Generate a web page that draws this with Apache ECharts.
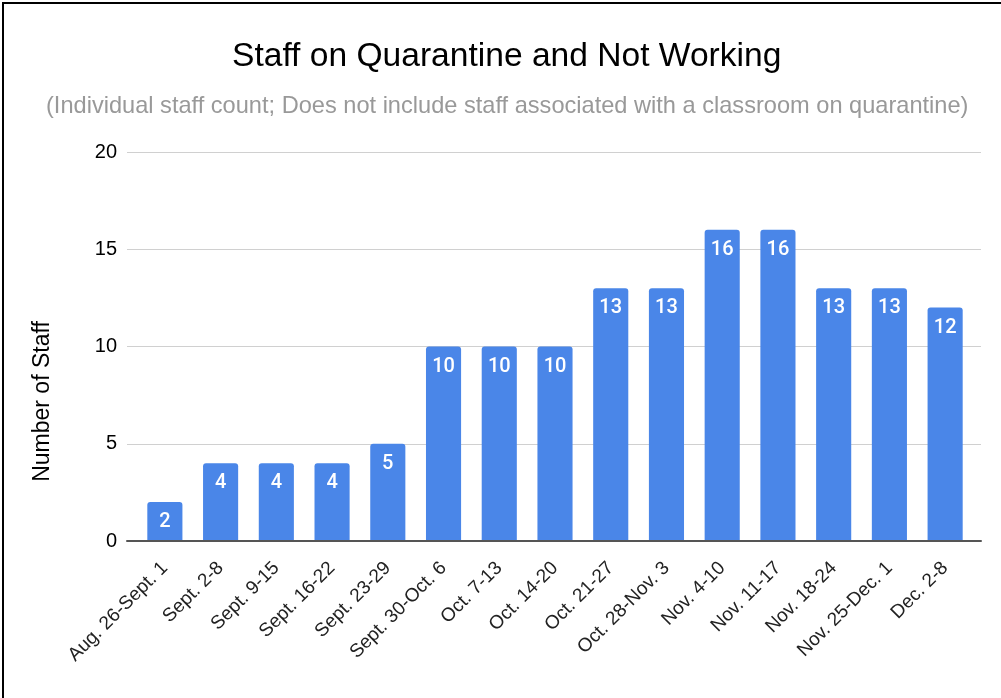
<!DOCTYPE html>
<html>
<head>
<meta charset="utf-8">
<script src="https://cdn.jsdelivr.net/npm/echarts@6/dist/echarts.min.js"></script>
<style>
html,body{margin:0;padding:0;background:#fff;}
#chart{position:absolute;left:0;top:0;width:1001px;height:698px;}
#frame{position:absolute;left:2px;top:2px;width:1001px;height:698px;border-left:2px solid #000;border-top:2px solid #000;pointer-events:none;}
</style>
</head>
<body>
<div id="chart"></div>
<div id="frame"></div>
<script>
const categories = ["Aug. 26-Sept. 1","Sept. 2-8","Sept. 9-15","Sept. 16-22","Sept. 23-29","Sept. 30-Oct. 6","Oct. 7-13","Oct. 14-20","Oct. 21-27","Oct. 28-Nov. 3","Nov. 4-10","Nov. 11-17","Nov. 18-24","Nov. 25-Dec. 1","Dec. 2-8"];
const staffValues = [2,4,4,4,5,10,10,10,13,13,16,16,13,13,12];
const yTicks = [0,5,10,15,20];
const titleText = "Staff on Quarantine and Not Working";
const subtitleText = "(Individual staff count; Does not include staff associated with a classroom on quarantine)";
const yAxisName = "Number of Staff";

const font = "'Liberation Sans', Arial, Helvetica, sans-serif";
const chart = echarts.init(document.getElementById('chart'), null, {renderer:'canvas'});
chart.setOption({
  animation:false,
  textStyle:{fontFamily:font},
  title:[
    {text:titleText, left:227, top:35, textStyle:{fontFamily:font, fontSize:33.6, fontWeight:'normal', color:'#000'}},
    {text:subtitleText, left:41, top:89, textStyle:{fontFamily:font, fontSize:23.6, fontWeight:'normal', color:'#999'}}
  ],
  grid:[
    {left:127, right:20, top:152, bottom:157},
    {left:137, right:28, top:152, bottom:157}
  ],
  xAxis:[
    {gridIndex:0, type:'value', min:0, max:1, z:5,
     axisLine:{show:true, lineStyle:{color:'#555', width:2}},
     axisTick:{show:false}, axisLabel:{show:false}, splitLine:{show:false}},
    {gridIndex:1, type:'category', data:categories,
     axisLine:{show:false}, axisTick:{show:false},
     axisLabel:{rotate:45, interval:0, fontSize:19, color:'#222', margin:24, fontFamily:font}}
  ],
  yAxis:[
    {gridIndex:0, type:'value', min:yTicks[0], max:yTicks[yTicks.length-1], interval:5,
     name:yAxisName, nameLocation:'middle', nameGap:73,
     nameTextStyle:{fontSize:23, color:'#000', fontFamily:font, padding:[0,110,0,0]},
     axisLine:{show:false}, axisTick:{show:false},
     axisLabel:{fontSize:20, color:'#000', margin:10, fontFamily:font},
     splitLine:{lineStyle:{color:'#d0d0d0', width:1}}},
    {gridIndex:1, type:'value', min:yTicks[0], max:yTicks[yTicks.length-1], interval:5, show:false, splitLine:{show:false}}
  ],
  series:[{
    type:'bar', xAxisIndex:1, yAxisIndex:1, data:staffValues, barWidth:'63%',
    itemStyle:{color:'#4a86e8', borderRadius:[3,3,0,0]},
    label:{show:true, position:'insideTop', distance:10, color:'#fff', fontSize:20, fontWeight:500, fontFamily:"Roboto, 'Liberation Sans', sans-serif"}
  }]
});
</script>
</body>
</html>
